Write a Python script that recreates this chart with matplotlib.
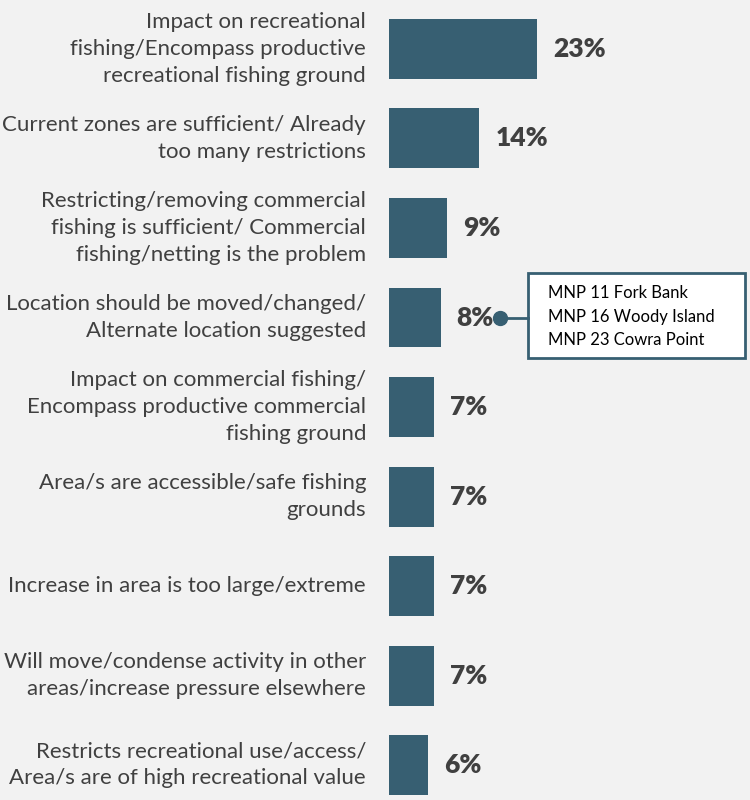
import matplotlib.pyplot as plt
import matplotlib.transforms as mtransforms
from matplotlib.patches import Rectangle

### Data ###
labels = [
    "Impact on recreational\nfishing/Encompass productive\nrecreational fishing ground",
    "Current zones are sufficient/ Already\ntoo many restrictions",
    "Restricting/removing commercial\nfishing is sufficient/ Commercial\nfishing/netting is the problem",
    "Location should be moved/changed/\nAlternate location suggested",
    "Impact on commercial fishing/\nEncompass productive commercial\nfishing ground",
    "Area/s are accessible/safe fishing\ngrounds",
    "Increase in area is too large/extreme",
    "Will move/condense activity in other\nareas/increase pressure elsewhere",
    "Restricts recreational use/access/\nArea/s are of high recreational value",
]
values = [23, 14, 9, 8, 7, 7, 7, 7, 6]
callout_index = 3
callout_text = "MNP 11 Fork Bank\nMNP 16 Woody Island\nMNP 23 Cowra Point"

### Style ###
BG = "#f2f2f2"
BAR = "#375f72"
TXT = "#404040"
plt.rcParams['font.family'] = ['Lato', 'DejaVu Sans']

fig = plt.figure(figsize=(7.5, 8), dpi=100, facecolor=BG)
ax = fig.add_axes([389 / 750, 0, 361 / 750, 1])
ax.set_facecolor(BG)

pos = list(range(len(values)))
ax.barh(pos, values, height=0.67, color=BAR)
ax.set_xlim(0, 56)
ax.set_ylim(8.39, -0.547)
ax.axis('off')

for i, (lab, v) in enumerate(zip(labels, values)):
    ax.annotate(lab, xy=(0, i), xytext=(-16.5, 0), textcoords='offset points',
                ha='right', va='center', fontsize=16, color=TXT,
                linespacing=1.42, annotation_clip=False)
    ax.annotate(f"{v}%", xy=(v, i), xytext=(11.5, 0), textcoords='offset points',
                ha='left', va='center', fontsize=19, fontweight='heavy', color=TXT)

### Callout (offsets in pixels from the end of the bar) ###
v = values[callout_index]
anchor = mtransforms.Affine2D().translate(*ax.transData.transform((v, callout_index)))

ax.plot([59, 87], [0, 0], color=BAR, lw=2, transform=anchor, clip_on=False)
ax.plot([59], [0], 'o', color=BAR, markersize=10, transform=anchor, clip_on=False)
box = Rectangle((87, -40.5), 217, 85, facecolor='white', edgecolor=BAR, lw=2,
                transform=anchor, clip_on=False)
ax.add_patch(box)
ax.text(107, 1, callout_text, transform=anchor, ha='left', va='center',
        fontsize=12, color='black', linespacing=1.55, clip_on=False)

fig.savefig("out.png", facecolor=BG)
